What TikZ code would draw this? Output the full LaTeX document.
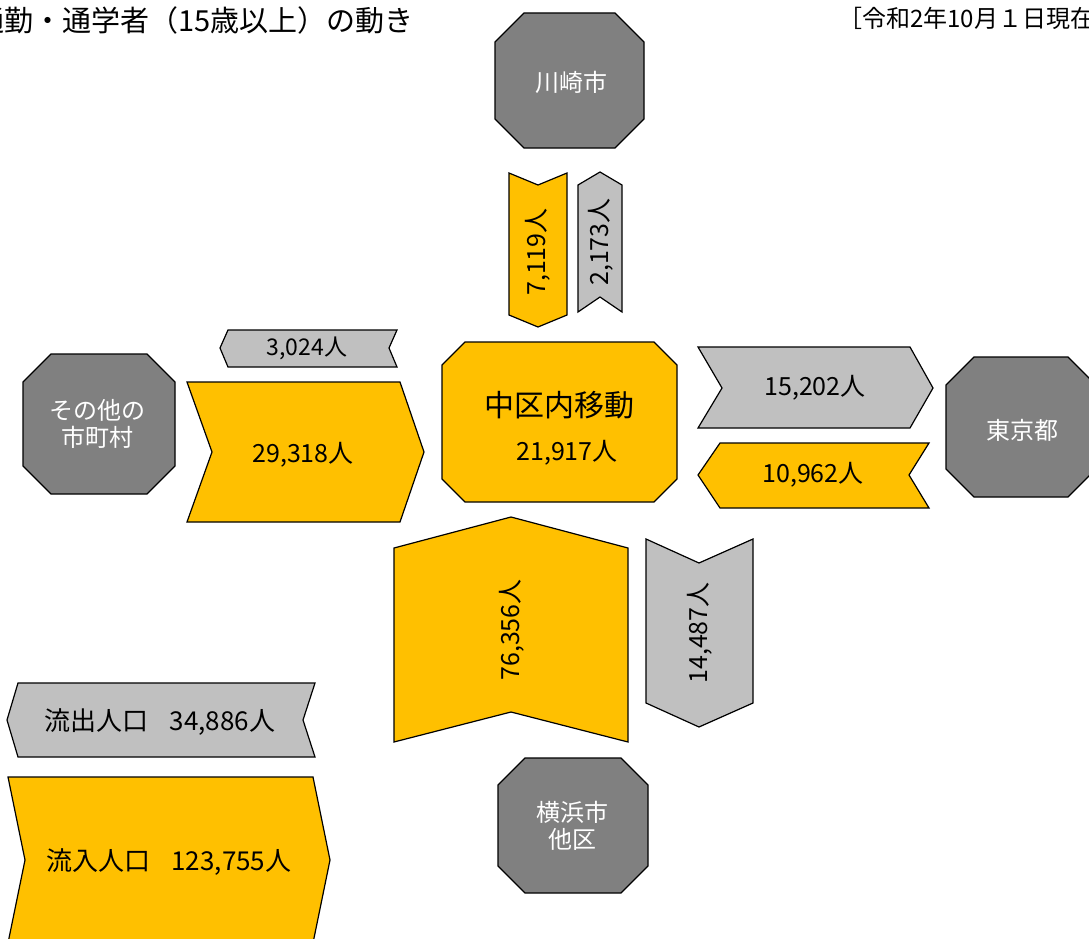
\documentclass[tikz,border=0pt]{standalone}
\usepackage{fontspec}
\setmainfont{Noto Sans CJK JP}
\definecolor{gold}{HTML}{FFC000}
\definecolor{lgrey}{HTML}{C0C0C0}
\definecolor{dgrey}{HTML}{808080}
\tikzset{
  goldshape/.style={fill=gold, draw=black, line width=1.2pt, line join=miter},
  greyshape/.style={fill=lgrey, draw=black, line width=1.2pt, line join=miter},
  octshape/.style={fill=dgrey, draw=black, line width=1.2pt, line join=miter},
  lbl/.style={font=\fontsize{25}{28}\selectfont, inner sep=0pt, text=black},
  vlbl/.style={lbl, rotate=90},
  wlbl/.style={font=\fontsize{24}{27}\selectfont, inner sep=0pt, text=white, align=center},
  ttl/.style={inner sep=0pt, text=black}
}
\newcommand\myocta[5]{% x1 y1 x2 y2 cut
  (#1+#5,#2) -- (#3-#5,#2) -- (#3,#2+#5) -- (#3,#4-#5) -- (#3-#5,#4) -- (#1+#5,#4) -- (#1,#4-#5) -- (#1,#2+#5) -- cycle}
\begin{document}
\begin{tikzpicture}[x=1pt,y=-1pt]
\useasboundingbox (0,0) rectangle (1089,939);
\fill[white] (0,0) rectangle (1089,939);

% titles
\node[ttl, anchor=east, font=\fontsize{29}{32}\selectfont] (title) at (414,20) {通勤・通学者（15歳以上）の動き};
\node[ttl, anchor=west, font=\fontsize{24}{28}\selectfont] (date) at (838,18) {［令和2年10月１日現在］};

% octagons
\draw[octshape] \myocta{495}{13}{644}{148}{29};
\node[wlbl] (kawasaki) at (571,82) {川崎市};
\draw[octshape] \myocta{23}{354}{175}{494}{28};
\node[wlbl] (other) at (97,424) {その他の\\市町村};
\draw[octshape] \myocta{946}{357}{1096}{497}{28};
\node[wlbl] (tokyo) at (1022,430) {東京都};
\draw[octshape] \myocta{498}{758}{648}{893}{27};
\node[wlbl] (yokohama) at (572,826) {横浜市\\他区};

% center
\draw[goldshape] \myocta{442}{342}{677}{502}{23};
\node[lbl, font=\fontsize{30}{34}\selectfont] (naka) at (559,405) {中区内移動};
\node[lbl] (nakanum) at (567,453) {21,917人};

% Kawasaki arrows
\draw[goldshape] (509,173) -- (538,185) -- (567,173) -- (567,315) -- (538,327) -- (509,315) -- cycle;
\node[vlbl] (kin) at (538,252) {7,119人};
\draw[greyshape] (578,185) -- (600,172) -- (622,185) -- (622,312) -- (600,297) -- (578,312) -- cycle;
\node[vlbl] (kout) at (601,242) {2,173人};

% other municipalities arrows
\draw[greyshape] (220,348) -- (228,330) -- (397,330) -- (389,348) -- (397,367) -- (228,367) -- cycle;
\node[lbl, font=\fontsize{23}{26}\selectfont] (oout) at (307,348) {3,024人};
\draw[goldshape] (187,382) -- (400,382) -- (424,452) -- (400,522) -- (187,522) -- (212,452) -- cycle;
\node[lbl] (oin) at (303,455) {29,318人};

% Tokyo arrows
\draw[greyshape] (698,347) -- (910,347) -- (933,388) -- (910,428) -- (698,428) -- (722,388) -- cycle;
\node[lbl] (tout) at (815,388) {15,202人};
\draw[goldshape] (698,475) -- (720,443) -- (929,443) -- (909,475) -- (929,508) -- (720,508) -- cycle;
\node[lbl] (tin) at (813,475) {10,962人};

% Yokohama arrows
\draw[goldshape] (394,548) -- (511,517) -- (628,548) -- (628,742) -- (511,712) -- (394,742) -- cycle;
\node[vlbl] (yin) at (512,630) {76,356人};
\draw[greyshape] (646,539) -- (699,563) -- (753,539) -- (753,703) -- (699,727) -- (646,703) -- cycle;
\node[vlbl] (yout) at (700,633) {14,487人};

% totals
\draw[greyshape] (7,720) -- (18,683) -- (315,683) -- (303,720) -- (315,757) -- (18,757) -- cycle;
\node[lbl, font=\fontsize{26}{30}\selectfont] (totout) at (160,722) {流出人口\hspace{0.8em}34,886人};
\draw[goldshape] (8,777) -- (313,777) -- (330,860) -- (313,943) -- (8,943) -- (25,860) -- cycle;
\node[lbl, font=\fontsize{26}{30}\selectfont] (totin) at (169,862) {流入人口\hspace{0.8em}123,755人};
\end{tikzpicture}
\end{document}
